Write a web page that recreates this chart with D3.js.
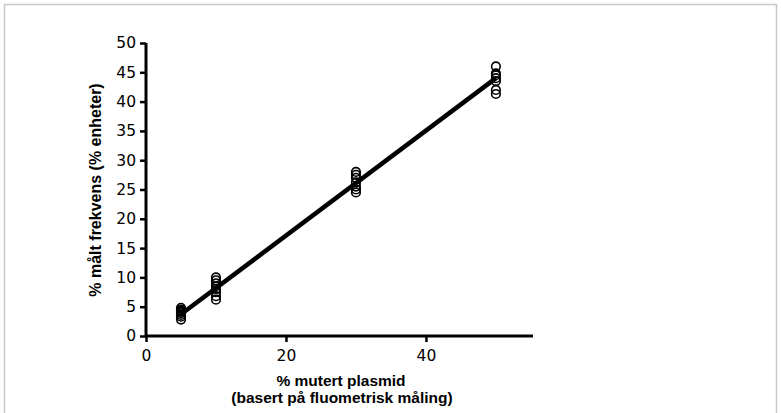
<!DOCTYPE html>
<html>
<head>
<meta charset="utf-8">
<script src="https://cdn.jsdelivr.net/npm/d3@7"></script>
<style>
  body { margin: 0; background: #fff; }
  svg { display: block; }
</style>
</head>
<body>
<svg width="781" height="413"></svg>
<script>
const groupX = [5, 10, 30, 50];
const valuesAt5 = [2.8, 3.3, 3.6, 3.9, 4.1, 4.3, 4.5, 4.8];
const valuesAt10 = [6.2, 6.8, 7.5, 8.0, 8.5, 9.0, 9.5, 10.0];
const valuesAt30 = [24.5, 25.0, 25.5, 26.2, 27.0, 27.5, 28.0];
const valuesAt50 = [41.3, 42.0, 43.5, 44.0, 44.5, 44.8, 46.0];

// fitted line end points
const fitX = [5, 50];
const fitY = [3.7, 44];

const xTicks = [0, 20, 40];
const yTicks = [0, 5, 10, 15, 20, 25, 30, 35, 40, 45, 50];

const svg = d3.select('svg');

svg.append('rect')
    .attr('x', 4.5).attr('y', 4.5)
    .attr('width', 772).attr('height', 420)
    .attr('fill', 'none')
    .attr('stroke', '#c8c8c8')
    .attr('stroke-width', 1.5);

const x = d3.scaleLinear().domain([0, 55.3]).range([146, 533]);
const y = d3.scaleLinear().domain([0, 50]).range([336, 43]);

const points = [];
[valuesAt5, valuesAt10, valuesAt30, valuesAt50].forEach(function (vals, i) {
    vals.forEach(function (v) {
        points.push({x: groupX[i], y: v});
    });
});

// axes
const yAxis = svg.append('g')
    .attr('transform', 'translate(' + x(0) + ',0)')
    .call(d3.axisLeft(y).tickValues(yTicks).tickSize(6).tickPadding(4));
const xAxis = svg.append('g')
    .attr('transform', 'translate(0,' + y(0) + ')')
    .call(d3.axisBottom(x).tickValues(xTicks).tickSize(6).tickPadding(8));

[yAxis, xAxis].forEach(function (a) {
    a.select('.domain').attr('stroke', '#000').attr('stroke-width', 3);
    a.selectAll('.tick line').attr('stroke', '#000').attr('stroke-width', 2.5);
    a.selectAll('.tick text')
        .attr('fill', '#000')
        .style('font-family', '"DejaVu Sans", sans-serif')
        .style('font-size', '15.5px');
});
yAxis.select('.domain').attr('d', 'M0,' + y(0) + 'V' + y(50));
xAxis.select('.domain').attr('d', 'M' + x(0) + ',0H' + x(55.3));

// circles
svg.append('g')
    .selectAll('circle')
    .data(points)
    .enter().append('circle')
    .attr('cx', function (d) { return x(d.x); })
    .attr('cy', function (d) { return y(d.y); })
    .attr('r', 4.3)
    .attr('fill', 'none')
    .attr('stroke', '#000')
    .attr('stroke-width', 1.6);

// fit line
svg.append('line')
    .attr('x1', x(fitX[0])).attr('y1', y(fitY[0]))
    .attr('x2', x(fitX[1])).attr('y2', y(fitY[1]))
    .attr('stroke', '#000')
    .attr('stroke-width', 4.5);

// titles
const titleFont = '"Liberation Sans", Arial, sans-serif';
svg.append('text')
    .attr('transform', 'translate(101,190) rotate(-90)')
    .attr('text-anchor', 'middle')
    .style('font-family', titleFont)
    .style('font-weight', 'bold')
    .style('font-size', '16px')
    .text('% målt frekvens (% enheter)');

svg.append('text')
    .attr('x', 341).attr('y', 386)
    .attr('text-anchor', 'middle')
    .style('font-family', titleFont)
    .style('font-weight', 'bold')
    .style('font-size', '15.5px')
    .text('% mutert plasmid');
svg.append('text')
    .attr('x', 342).attr('y', 403)
    .attr('text-anchor', 'middle')
    .style('font-family', titleFont)
    .style('font-weight', 'bold')
    .style('font-size', '15.5px')
    .text('(basert på fluometrisk måling)');
</script>
</body>
</html>
